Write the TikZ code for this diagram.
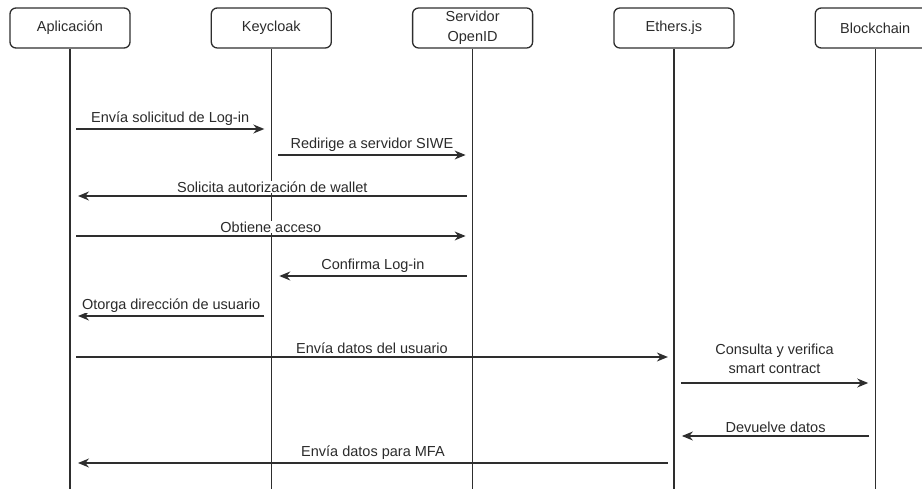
\documentclass[tikz,border=0pt]{standalone}
\usepackage{fontspec}
\setmainfont{Liberation Sans}
\usetikzlibrary{positioning, arrows.meta}

\begin{document}
\begin{tikzpicture}[x=1pt, y=1pt,
  actor/.style={draw=linea, line width=1.3pt, rounded corners=6pt, minimum width=120pt, minimum height=40pt, align=center, text=texto, font=\fontsize{14.5}{19.5}\selectfont},
  vida/.style={draw=linea, line width=1.3pt},
  msg/.style={draw=linea, line width=1.3pt, -{Stealth[length=11pt, width=9pt]}},
  etiqueta/.style={fill=white, inner sep=1pt, text=texto, align=center, font=\fontsize{14.5}{19}\selectfont}]
% --- DIAGRAMA DE SECUENCIA: LOG-IN CON WALLET ---
\definecolor{linea}{HTML}{2E2E2E}
\definecolor{texto}{HTML}{2B2B2B}
\useasboundingbox (0,0) rectangle (922,-489);

% LAYER 1: Participantes
\node[actor] (app) at (70,-28) {Aplicación};
\node[actor, right=80pt of app] (kc) {Keycloak};
\node[actor, right=80pt of kc] (oid) {Servidor\\OpenID};
\node[actor, right=80pt of oid] (eth) {Ethers.js};
\node[actor, right=80pt of eth] (bc) {Blockchain};

% LAYER 2: Lineas de vida
\draw[vida] (app.south) -- (app.south |- 0,-489);
\draw[vida] (kc.south) -- (kc.south |- 0,-489);
\draw[vida] (oid.south) -- (oid.south |- 0,-489);
\draw[vida] (eth.south) -- (eth.south |- 0,-489);
\draw[vida] (bc.south) -- (bc.south |- 0,-489);

% LAYER 3: Mensajes
\draw[msg] ([xshift=6pt]app.south |- 0,-129) -- ([xshift=-7pt]kc.south |- 0,-129) node[etiqueta, midway, above=2pt] {Envía solicitud de Log-in};
\draw[msg] ([xshift=7pt]kc.south |- 0,-155) -- ([xshift=-7pt]oid.south |- 0,-155) node[etiqueta, midway, above=2pt] {Redirige a servidor SIWE};
\draw[msg] ([xshift=-6pt]oid.south |- 0,-196) -- ([xshift=8pt]app.south |- 0,-196) node[etiqueta, midway, above=2pt] {Solicita autorización de wallet};
\draw[msg] ([xshift=6pt]app.south |- 0,-236) -- ([xshift=-7pt]oid.south |- 0,-236) node[etiqueta, midway, above=2pt] {Obtiene acceso};
\draw[msg] ([xshift=-6pt]oid.south |- 0,-276) -- ([xshift=8pt]kc.south |- 0,-276) node[etiqueta, midway, above=2pt] {Confirma Log-in};
\draw[msg] ([xshift=-7pt]kc.south |- 0,-316) -- ([xshift=8pt]app.south |- 0,-316) node[etiqueta, midway, above=2pt] {Otorga dirección de usuario};
\draw[msg] ([xshift=6pt]app.south |- 0,-357) -- ([xshift=-6pt]eth.south |- 0,-357) node[etiqueta, midway, above=2pt] {Envía datos del usuario};
\draw[msg] ([xshift=7pt]eth.south |- 0,-383) -- ([xshift=-7pt]bc.south |- 0,-383) node[etiqueta, midway, above=8pt] {Consulta y verifica\\smart contract};
\draw[msg] ([xshift=-6pt]bc.south |- 0,-436) -- ([xshift=8pt]eth.south |- 0,-436) node[etiqueta, midway, above=2pt] {Devuelve datos};
\draw[msg] ([xshift=-6pt]eth.south |- 0,-463) -- ([xshift=8pt]app.south |- 0,-463) node[etiqueta, midway, above=2pt] {Envía datos para MFA};
\end{tikzpicture}
\end{document}
